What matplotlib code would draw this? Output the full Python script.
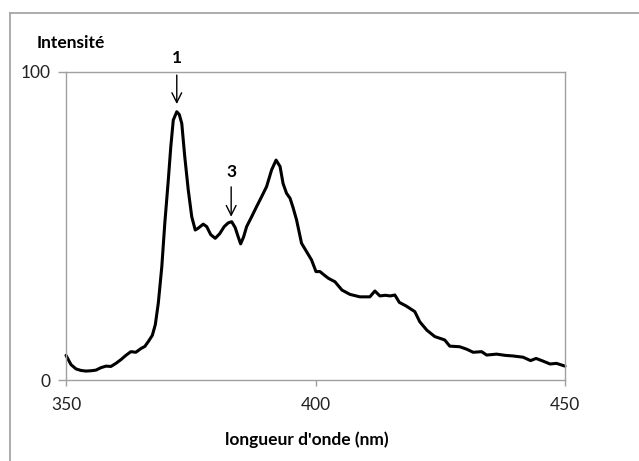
import matplotlib
matplotlib.use("Agg")
import matplotlib.pyplot as plt
from matplotlib.lines import Line2D

# ---- data ----
wavelength = [350, 351, 352, 353, 354, 355, 356, 357, 358, 359, 360, 361, 362, 363, 364,
              365, 365.8, 366.5, 367.3, 367.9, 368.5, 369.2, 369.8, 370.5, 371.0, 371.5,
              372.2, 372.7, 373.2, 373.8, 374.5, 375.2, 375.9, 376.5, 377.5,
              378.2, 379, 379.9, 380.8, 381.7, 382.5, 383.2, 383.9, 384.5, 385, 385.6, 386.2,
              387.2, 388.2, 389.2, 390.2, 391.2, 392.1, 392.9, 393.5, 394.2, 394.9, 395.5,
              396.2, 397.2, 398.2, 399.2, 400.1, 400.9, 401.8, 402.6, 403.9, 405.3, 406.9,
              408.9, 410.9, 411.9, 412.9, 414, 415, 415.9, 416.8, 418.2, 419.9, 420.9, 422.3,
              423.9, 425.9, 426.9, 428.9, 430.3, 431.6, 433.3, 434.3, 436.3, 438, 439.6,
              441.6, 443.1, 444.2, 445.5, 447, 448.3, 450]
intensity = [8.0, 5.0, 3.6, 3.1, 2.9, 3.0, 3.2, 4.0, 4.5, 4.4, 5.4, 6.6, 8.0, 9.2, 9.0,
             10.2, 10.9, 12.5, 14.5, 18.0, 25.0, 36.8, 50.9, 64.9, 75.7, 84.4,
             87.1, 86.2, 83.3, 72.5, 61.7, 53.0, 48.7, 49.3, 50.6,
             49.8, 47.2, 46.0, 47.5, 49.8, 51.0, 51.4, 49.5, 46.5, 44.2, 46.5, 49.8,
             53.0, 56.3, 59.5, 62.8, 68.2, 71.4, 69.3, 63.8, 60.6, 59.0, 56.0,
             52.0, 44.4, 41.7, 39.0, 35.2, 35.2, 34.0, 33.0, 31.9, 29.2, 27.8,
             27.0, 27.0, 28.9, 27.3, 27.5, 27.3, 27.6, 25.2, 24.0, 22.2, 18.9, 16.2,
             14.1, 13.0, 11.0, 10.8, 10.0, 9.0, 9.2, 8.1, 8.4, 8.0, 7.8,
             7.4, 6.3, 7.0, 6.2, 5.2, 5.4, 4.5]

x_ticks = [350, 400, 450]
y_ticks = [0, 100]
peak_labels = ["1", "3"]
peak_x = [372.2, 383.1]
peak_tip_y = [89.6, 53.0]
peak_tail_y = [99.0, 62.7]
peak_text_y = [104.5, 67.5]

FONT = ["Lato", "DejaVu Sans"]
plt.rcParams["font.family"] = FONT

W, H = 639, 461
fig = plt.figure(figsize=(W / 100, H / 100), dpi=100)
ax = fig.add_axes([66 / W, 1 - 380 / H, 499 / W, 308 / H])

ax.plot(wavelength, intensity, color="black", lw=2.2, solid_joinstyle="round",
        solid_capstyle="round", clip_on=False)

ax.set_xlim(350, 450)
ax.set_ylim(0, 100)
ax.set_xticks(x_ticks)
ax.set_yticks(y_ticks)
ax.set_xticklabels([str(v) for v in x_ticks])
ax.set_yticklabels([str(v) for v in y_ticks])

grey = "#a0a0a0"
for s in ax.spines.values():
    s.set_color(grey)
    s.set_linewidth(1.0)
ax.tick_params(axis="x", direction="out", length=4, width=1, color=grey,
               labelsize=12.5, pad=8, labelcolor="#222222")
ax.tick_params(axis="y", direction="out", length=6, width=1, color=grey,
               labelsize=12.5, pad=5, labelcolor="#222222")

for lab, px, ty, tt, txy in zip(peak_labels, peak_x, peak_tip_y, peak_tail_y, peak_text_y):
    ax.annotate("", xy=(px, ty), xytext=(px, tt),
                arrowprops=dict(arrowstyle="->,head_length=0.7,head_width=0.35",
                                color="black", lw=1.0, shrinkA=0, shrinkB=0),
                annotation_clip=False)
    ax.text(px, txy, lab, ha="center", va="center", fontsize=12.5,
            fontweight="bold", clip_on=False)

fig.text(37 / W, 1 - 43 / H, "Intensité", ha="left", va="center",
         fontsize=12.5, fontweight="bold")
fig.text(307 / W, 1 - 440 / H, "longueur d'onde (nm)", ha="center", va="center",
         fontsize=12.5, fontweight="bold")

# outer chart border (partly outside the image)
bx, by = 10 / W, 1 - 13 / H
fig.add_artist(Line2D([bx, bx], [0, by], color="#a6a6a6", lw=1.3,
                      transform=fig.transFigure))
fig.add_artist(Line2D([bx, 1], [by, by], color="#a6a6a6", lw=1.3,
                      transform=fig.transFigure))

fig.savefig("out.png", dpi=100)
